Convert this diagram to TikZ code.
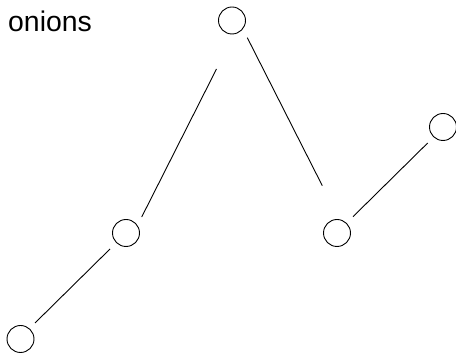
\documentclass[tikz,border=0pt]{standalone}
\usepackage{fontspec}
\usetikzlibrary{calc}
\setmainfont{Liberation Sans}
\begin{document}
\begin{tikzpicture}[x=1pt,y=1pt,
  vtx/.style={circle,draw,line width=0.9pt,minimum size=27pt,inner sep=0pt},
  edge/.style={line width=0.9pt}]
\useasboundingbox (0,0) rectangle (456,353);
\node[vtx] (c1) at (232,332.5) {};
\node[vtx] (c2) at (126,120) {};
\node[vtx] (c3) at (337,120) {};
\node[vtx] (c4) at (443,226) {};
\node[vtx] (c5) at (20.5,14) {};
\node[anchor=base west,inner sep=0pt,font=\fontsize{28.4}{30}\selectfont] (lbl) at (8,321) {onions};
\coordinate (a1) at ($(c2)+(15.7,16)$);
\coordinate (a2) at ($(c1)+(-15.5,-48.5)$);
\coordinate (b1) at ($(c1)+(15.3,-17.2)$);
\coordinate (b2) at ($(c3)+(-14.7,47.3)$);
\coordinate (d1) at ($(c3)+(16,16.3)$);
\coordinate (d2) at ($(c4)+(-15.3,-16)$);
\coordinate (f1) at ($(c5)+(14.5,16)$);
\coordinate (f2) at ($(c2)+(-16,-16)$);
\draw[edge] (a1) -- (a2);
\draw[edge] (b1) -- (b2);
\draw[edge] (d1) -- (d2);
\draw[edge] (f1) -- (f2);
\end{tikzpicture}
\end{document}
